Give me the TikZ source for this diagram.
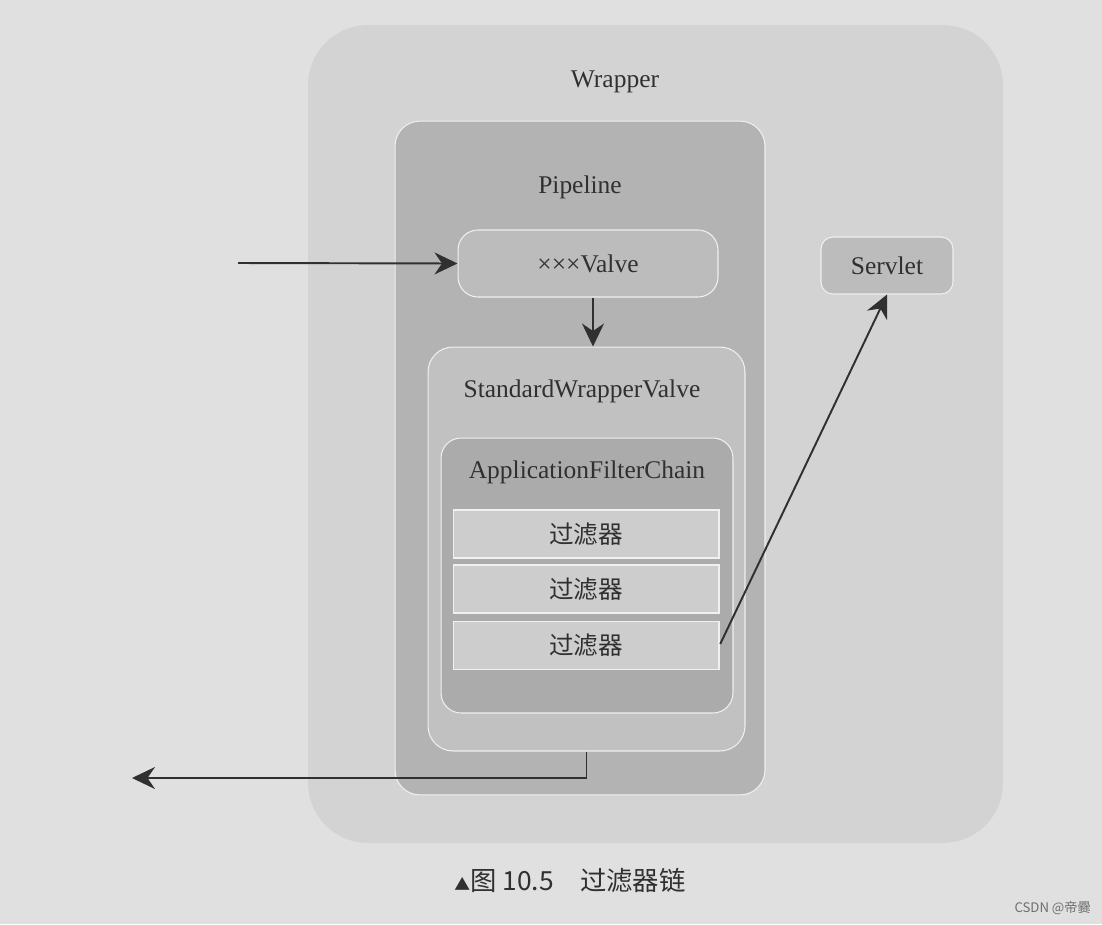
\documentclass[tikz,border=0pt]{standalone}
\usepackage{fontspec}
\setmainfont{Liberation Serif}
\newfontfamily\cjk{Noto Sans CJK SC}
\usetikzlibrary{arrows.meta}
\definecolor{paper}{HTML}{E0E0E0}
\definecolor{wrapfill}{HTML}{D3D3D3}
\definecolor{pipefill}{HTML}{B3B3B3}
\definecolor{valvefill}{HTML}{BCBCBC}
\definecolor{swvfill}{HTML}{C1C1C1}
\definecolor{chainfill}{HTML}{ABABAB}
\definecolor{filtfill}{HTML}{CDCDCD}
\definecolor{rim}{HTML}{F0F0F0}
\definecolor{ink}{HTML}{303030}
\tikzset{
  box/.style    = {draw=rim, line width=0.6pt, inner sep=0pt},
  lbl/.style    = {font=\fontsize{14.5}{16}\selectfont, text=ink, inner sep=1pt},
  filt/.style   = {box, fill=filtfill, minimum width=53.2mm, minimum height=9.6mm,
                   font=\cjk\fontsize{14}{16}\selectfont, text=ink},
  flow/.style   = {-{Stealth[length=4.6mm, width=4.4mm, inset=1.5mm]}, draw=ink, line width=1.1pt},
}
\begin{document}
\begin{tikzpicture}[x=0.02cm, y=-0.02cm]
  \fill[paper] (0,0) rectangle (1102,924);
  \useasboundingbox (0,0) rectangle (1102,924);
  % nested containers
  \node[fill=wrapfill, rounded corners=12mm, minimum width=139mm, minimum height=163.6mm,
        inner sep=0pt] (wrap) at (655.5,434) {};
  \node[box, fill=pipefill, rounded corners=5mm, minimum width=74mm,
        minimum height=134.8mm] (pipe) at (580,458) {};
  \node[box, fill=valvefill, rounded corners=4mm, minimum width=52mm, minimum height=13.4mm,
        lbl] (valve) at (588,263.5) {×××Valve};
  \node[box, fill=swvfill, rounded corners=5mm, minimum width=63.4mm,
        minimum height=80.8mm] (swv) at (586.5,549) {};
  \node[box, fill=chainfill, rounded corners=4mm, minimum width=58.4mm,
        minimum height=55mm] (chain) at (587,575.5) {};
  \foreach \i/\y in {1/534, 2/589, 3/645.5}
    \node[filt] (f\i) at (586,\y) {过滤器};
  \node[box, fill=valvefill, rounded corners=2.4mm, minimum width=26.4mm, minimum height=11.4mm,
        lbl] (servlet) at (887,265.5) {Servlet};
  % titles
  \node[lbl] (lwrap) at (615,82) {Wrapper};
  \node[lbl] (lpipe) at (580,187) {Pipeline};
  \node[lbl] (lswv) at (582,391) {StandardWrapperValve};
  \node[lbl] (lchain) at (587,472) {ApplicationFilterChain};
  % connectors
  \coordinate (in) at (238,263);
  \coordinate (out) at (132,778);
  \draw[flow] (in) -- (valve.west);
  \draw[flow] ([xshift=1mm]valve.south) -- ([xshift=1mm]valve.south |- swv.north);
  \draw[flow, shorten <=1pt] (f3.east) -- (servlet.south);
  \draw[flow] (swv.south) |- (out);
  % caption
  \node[font=\cjk\fontsize{15}{17}\selectfont, text=ink] (cap) at (570,880)
    {{\fontsize{9}{10}\selectfont ▲}图 10.5\quad 过滤器链};
  \node[font=\cjk\fontsize{7.5}{9}\selectfont, text=ink!70, anchor=east] (mark) at (1097,908) {CSDN @帝爨};
\end{tikzpicture}
\end{document}
